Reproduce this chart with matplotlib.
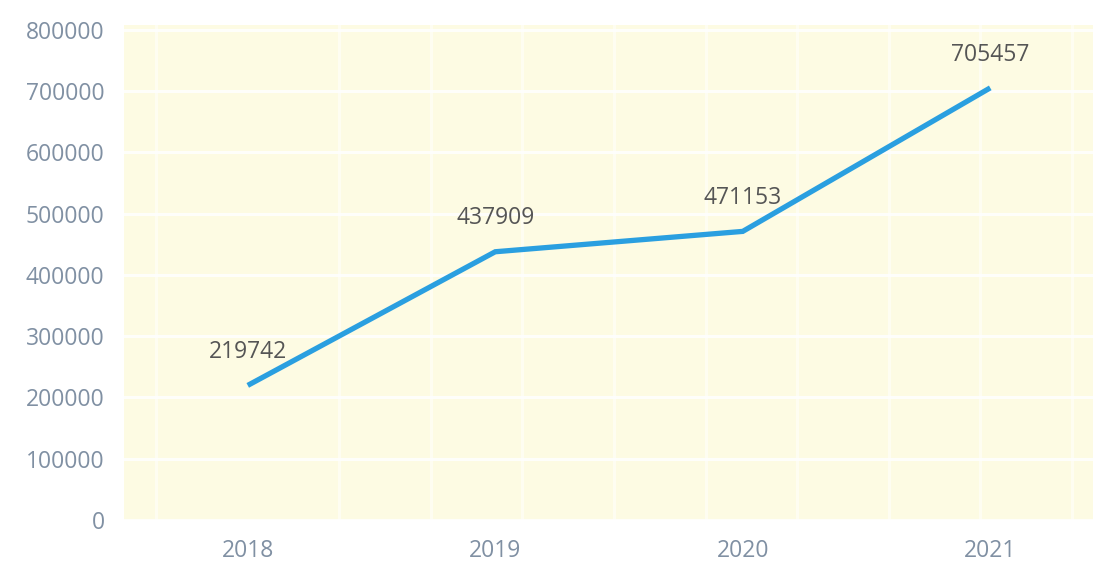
import matplotlib
matplotlib.use("Agg")
import matplotlib.pyplot as plt
from matplotlib.ticker import MultipleLocator

years = ["2018", "2019", "2020", "2021"]
values = [219742, 437909, 471153, 705457]
y_ticks = [0, 100000, 200000, 300000, 400000, 500000, 600000, 700000, 800000]

plt.rcParams['font.family'] = ['Open Sans', 'DejaVu Sans']

fig = plt.figure(figsize=(10.93, 5.71), dpi=100)
fig.patch.set_facecolor('white')
W, H = 1093, 571
left, right, top, bottom = 124, 1114, 25, 520
ax = fig.add_axes([left / W, 1 - bottom / H, (right - left) / W, (bottom - top) / H])
ax.set_facecolor('#fdfbe3')

x = list(range(len(years)))
ax.plot(x, values, color='#2a9fe0', lw=3.8, solid_capstyle='butt', solid_joinstyle='miter', zorder=3)

for xi, v in zip(x, values):
    ax.annotate(str(v), (xi, v), xytext=(0, 24), textcoords='offset points',
                ha='center', va='center', fontsize=16.5, color='#555555', zorder=4)

ax.set_xlim(-0.5, 3.5)
ax.set_ylim(0, 800000 * (500 / 495))
ax.set_xticks(x)
ax.set_xticklabels(years)
ax.set_yticks(y_ticks)
ax.set_yticklabels([str(t) for t in y_ticks])
ax.xaxis.set_minor_locator(MultipleLocator(0.37))
ax.grid(True, axis='y', which='major', color='white', lw=2.2, alpha=0.85, zorder=1)
ax.grid(True, axis='x', which='minor', color='white', lw=2.2, alpha=0.5, zorder=1)
ax.grid(False, axis='x', which='major')
ax.set_axisbelow(True)
ax.tick_params(axis='both', which='both', length=0, labelsize=16.5, colors='#8090a3')
ax.tick_params(axis='y', pad=14)
ax.tick_params(axis='x', pad=14)
for s in ax.spines.values():
    s.set_visible(False)

fig.savefig('out.png', dpi=100, facecolor='white')
